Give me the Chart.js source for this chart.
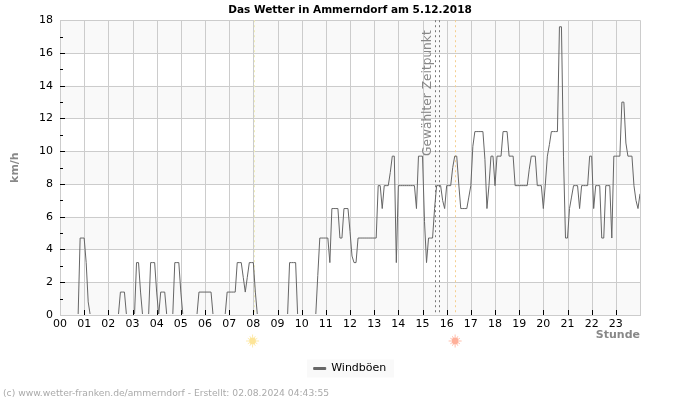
<!DOCTYPE html>
<html>
<head>
<meta charset="utf-8">
<style>html,body{margin:0;padding:0;background:#fff}canvas{display:block}</style>
<script src="https://cdn.jsdelivr.net/npm/chart.js@4"></script>
</head>
<body>
<canvas id="c" width="700" height="400" style="width:700px;height:400px"></canvas>
<script>
const chartTitle = "Das Wetter in Ammerndorf am 5.12.2018";
const seriesName = "Windböen";
const yTitle = "km/h";
const xTitle = "Stunde";
const selectedLabel = "Gewählter Zeitpunkt";
const footerText = "(c) www.wetter-franken.de/ammerndorf - Erstellt: 02.08.2024 04:43:55";
const hourLabels = ["00","01","02","03","04","05","06","07","08","09","10","11","12","13","14","15","16","17","18","19","20","21","22","23"];
const selectedHours = [15.52, 15.69];
const sunriseHour = 8.01;
const sunsetHour = 16.35;

// Wind gusts, one value every 5 minutes, one row per hour
const h00 = [0,0,0,0,0,0,0,0,0,0,4.7,4.7];
const h01 = [4.7,3.2,0.8,0,0,0,0,0,0,0,0,0];
const h02 = [0,0,0,0,0,0,1.4,1.4,1.4,0,0,0];
const h03 = [0,0,3.2,3.2,1.4,0,0,0,0,3.2,3.2,3.2];
const h04 = [1.4,0,1.4,1.4,1.4,0,0,0,0,3.2,3.2,3.2];
const h05 = [1.4,0,0,0,0,0,0,0,0,1.4,1.4,1.4];
const h06 = [1.4,1.4,1.4,1.4,0,0,0,0,0,0,0,1.4];
const h07 = [1.4,1.4,1.4,1.4,3.2,3.2,3.2,2.3,1.4,2.3,3.2,3.2];
const h08 = [3.2,1.4,0,0,0,0,0,0,0,0,0,0];
const h09 = [0,0,0,0,0,0,3.2,3.2,3.2,3.2,0,0];
const h10 = [0,0,0,0,0,0,0,0,2.4,4.7,4.7,4.7];
const h11 = [4.7,4.7,3.2,6.5,6.5,6.5,6.5,4.7,4.7,6.5,6.5,6.5];
const h12 = [5.1,3.6,3.2,3.2,4.7,4.7,4.7,4.7,4.7,4.7,4.7,4.7];
const h13 = [4.7,4.7,7.9,7.9,6.5,7.9,7.9,7.9,8.7,9.7,9.7,3.2];
const h14 = [7.9,7.9,7.9,7.9,7.9,7.9,7.9,7.9,7.9,6.5,9.7,9.7];
const h15 = [9.7,5.7,3.2,4.7,4.7,4.7,6.5,7.9,7.9,7.9,7,6.5];
const h16 = [7.9,7.9,7.9,9,9.7,9.7,8,6.5,6.5,6.5,6.5,7.2];
const h17 = [7.9,10.3,11.2,11.2,11.2,11.2,11.2,9.5,6.5,7.9,9.7,9.7];
const h18 = [7.9,9.7,9.7,9.7,11.2,11.2,11.2,9.7,9.7,9.7,7.9,7.9];
const h19 = [7.9,7.9,7.9,7.9,7.9,8.9,9.7,9.7,9.7,7.9,7.9,7.9];
const h20 = [6.5,8,9.7,10.4,11.2,11.2,11.2,11.2,17.6,17.6,9.7,4.7];
const h21 = [4.7,6.5,7.2,7.9,7.9,7.9,6.5,7.9,7.9,7.9,7.9,9.7];
const h22 = [9.7,6.5,7.9,7.9,7.9,4.7,4.7,7.9,7.9,7.9,4.7,9.7];
const h23 = [9.7,9.7,9.7,13,13,10.5,9.7,9.7,9.7,7.9,7,6.5,7.4];

const gusts = [h00,h01,h02,h03,h04,h05,h06,h07,h08,h09,h10,h11,h12,h13,h14,h15,h16,h17,h18,h19,h20,h21,h22,h23].flat();
const points = gusts.map((v, i) => ({x: i / 12, y: v}));

function drawSun(ctx, x, y, color) {
  ctx.save();
  ctx.strokeStyle = color; ctx.fillStyle = color; ctx.lineWidth = 1; ctx.globalAlpha = 0.8;
  for (let a = 0; a < 12; a++) {
    const t = a * Math.PI / 6;
    ctx.beginPath();
    ctx.moveTo(x + Math.cos(t) * 3.5, y + Math.sin(t) * 3.5);
    ctx.lineTo(x + Math.cos(t) * (a % 3 === 0 ? 6.5 : 5.5), y + Math.sin(t) * (a % 3 === 0 ? 6.5 : 5.5));
    ctx.stroke();
  }
  ctx.globalAlpha = 1;
  ctx.beginPath(); ctx.arc(x, y, 3.4, 0, 7); ctx.fill();
  ctx.restore();
}

const decor = {
  id: "decor",
  afterLayout(chart) {
    // title and legend are centred on the whole page, not on the space left of the right margin
    chart.legend.left = 0; chart.legend.right = 700;
    chart.titleBlock.left = 0; chart.titleBlock.right = 700;
  },
  beforeDatasetsDraw(chart) {
    const {ctx, chartArea: a, scales: {x, y}} = chart;
    ctx.save();
    ctx.fillStyle = "#f9f9f9";
    for (let v = 0; v < 18; v += 4) {
      ctx.fillRect(a.left, y.getPixelForValue(v + 2), a.width, y.getPixelForValue(v) - y.getPixelForValue(v + 2));
    }
    ctx.strokeStyle = "#cccccc"; ctx.lineWidth = 1;
    for (let v = 0; v <= 18; v += 2) {
      const p = Math.round(y.getPixelForValue(v)) + 0.5;
      ctx.beginPath(); ctx.moveTo(a.left, p); ctx.lineTo(a.right, p); ctx.stroke();
    }
    for (let h = 0; h <= 24; h++) {
      const p = Math.round(x.getPixelForValue(h)) + 0.5;
      ctx.beginPath(); ctx.moveTo(p, a.top); ctx.lineTo(p, a.bottom); ctx.stroke();
    }
    ctx.strokeStyle = "#000";
    for (let v = 1; v < 18; v++) {
      const p = Math.round(y.getPixelForValue(v)) + 0.5;
      ctx.beginPath(); ctx.moveTo(a.left, p); ctx.lineTo(a.left + (v % 2 ? 3 : 5), p); ctx.stroke();
    }
    for (let h = 1; h < 24; h++) {
      const p = Math.round(x.getPixelForValue(h)) + 0.5;
      ctx.beginPath(); ctx.moveTo(p, a.bottom); ctx.lineTo(p, a.bottom - 5); ctx.stroke();
    }
    ctx.setLineDash([2, 3]);
    ctx.strokeStyle = "#777";
    selectedHours.forEach(h => {
      const p = Math.round(x.getPixelForValue(h)) + 0.5;
      ctx.beginPath(); ctx.moveTo(p, a.top); ctx.lineTo(p, a.bottom); ctx.stroke();
    });
    ctx.strokeStyle = "#f5cf90";
    let p = Math.round(x.getPixelForValue(sunsetHour)) + 0.5;
    ctx.beginPath(); ctx.moveTo(p, a.top); ctx.lineTo(p, a.bottom); ctx.stroke();
    ctx.strokeStyle = "#f0eeb8";
    p = Math.round(x.getPixelForValue(sunriseHour)) + 0.5;
    ctx.beginPath(); ctx.moveTo(p, a.top); ctx.lineTo(p, a.bottom); ctx.stroke();
    ctx.restore();
  },
  afterDatasetsDraw(chart) {
    const {ctx, scales: {x}} = chart;
    ctx.save();
    ctx.translate(x.getPixelForValue(selectedHours[0]) - 7, 156);
    ctx.rotate(-Math.PI / 2);
    ctx.font = "12.2px 'DejaVu Sans'";
    ctx.fillStyle = "#888";
    ctx.textAlign = "left"; ctx.textBaseline = "middle";
    ctx.fillText(selectedLabel, 0, 0);
    ctx.restore();
  },
  beforeDraw(chart) {
    const {ctx, legend} = chart;
    const hb = legend.legendHitBoxes[0];
    ctx.save();
    ctx.fillStyle = "#f9f9f9";
    ctx.fillRect(307, hb.top + hb.height / 2 - 9, 87, 18);
    ctx.restore();
  },
  afterDraw(chart) {
    const {ctx, scales: {x}} = chart;
    drawSun(ctx, x.getPixelForValue(sunriseHour) - 1, 341, "#fde598");
    drawSun(ctx, x.getPixelForValue(sunsetHour), 341, "#ffb09a");
    ctx.save();
    ctx.font = "9.2px 'DejaVu Sans'";
    ctx.fillStyle = "#aaa";
    ctx.textAlign = "left"; ctx.textBaseline = "middle";
    ctx.fillText(footerText, 3, 393.5);
    ctx.restore();
  }
};

new Chart(document.getElementById("c"), {
  type: "line",
  data: { datasets: [{
    label: seriesName,
    data: points,
    borderColor: "#666",
    backgroundColor: "#666",
    borderWidth: 1,
    pointRadius: 0,
    tension: 0,
    fill: false,
    clip: {left: 0, top: 0, right: 0, bottom: -1}
  }]},
  plugins: [decor],
  options: {
    responsive: false,
    animation: false,
    devicePixelRatio: 1,
    layout: { padding: {left: 0, right: 60, top: 1, bottom: 16} },
    plugins: {
      title: { display: true, text: chartTitle, color: "#000",
        font: {family: "'DejaVu Sans'", size: 10.5, weight: "bold", lineHeight: 1.26}, padding: {top: 3, bottom: 3} },
      legend: { position: "bottom",
        labels: { color: "#000", font: {family: "'DejaVu Sans'", size: 11}, boxWidth: 12, boxHeight: 2, padding: 4 } },
      tooltip: {enabled: false}
    },
    scales: {
      x: {
        type: "linear", min: 0, max: 24,
        grid: {display: false, drawTicks: false},
        border: {color: "#ccc"},
        afterFit(s) { s.height = 44; },
        afterBuildTicks(s) { s.ticks = hourLabels.map((_, i) => ({value: i})); },
        ticks: { autoSkip: false, maxRotation: 0, color: "#000", padding: 3,
          font: {family: "'DejaVu Sans'", size: 11},
          callback: (v) => hourLabels[v] },
        title: { display: true, text: xTitle, align: "end", color: "#888",
          font: {family: "'DejaVu Sans'", size: 11, weight: "bold"}, padding: {top: 0, bottom: 17} }
      },
      y: {
        min: 0, max: 18,
        grid: {display: false, drawTicks: false},
        border: {color: "#ccc"},
        afterFit(s) { s.width = 60; },
        ticks: { stepSize: 2, color: "#000", padding: 7,
          font: {family: "'DejaVu Sans'", size: 11} },
        title: { display: true, text: yTitle, color: "#888",
          font: {family: "'DejaVu Sans'", size: 11, weight: "bold"}, padding: {top: 9, bottom: 0} }
      }
    }
  }
});
</script>
</body>
</html>
